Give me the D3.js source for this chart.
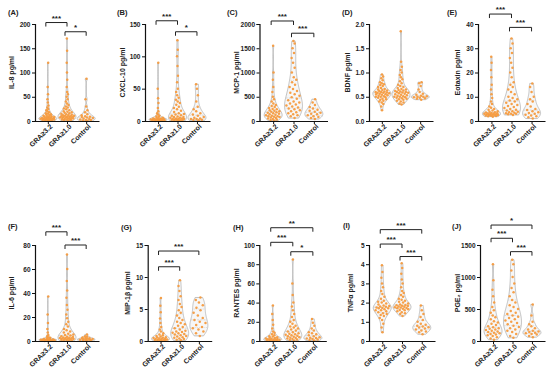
<!DOCTYPE html>
<html>
<head>
<meta charset="utf-8">
<script src="https://cdn.jsdelivr.net/npm/d3@7"></script>
<style>
  body { margin: 0; background: #fff; }
  svg { display: block; }
</style>
</head>
<body>
<div id="chart"></div>
<script>
// Groups on every x axis
const groups = ['GRA≥3.2', 'GRA≥1.0', 'Control'];

// Values, one list per group: [GRA≥3.2, GRA≥1.0, Control]
const IL8 = [
  [0.5,1,1,1.5,2,2,2.5,3,3,3.5,4,4,4.5,5,5,5.5,6,6,7,7,8,8,9,10,10,11,12,13,14,15,16,18,20,22,25,28,32,38,45,55,70,120],
  [1,2,2,3,3,4,4,5,5,6,6,7,7,8,8,9,9,10,10,11,11,12,12,13,14,15,16,17,18,19,20,22,24,26,28,30,33,36,40,45,50,55,60,70,85,100,120,145,170],
  [0.5,1,2,2,3,4,5,6,7,8,9,10,12,14,18,22,30,45,87]
];
const CXCL10 = [
  [0,0,0.5,0.5,1,1,1,1.5,1.5,2,2,2,2.5,3,3,3,3.5,4,4,5,5,6,7,8,10,12,15,20,28,35,50,90],
  [0.5,1,1,1.5,2,2,2.5,3,3,3.5,4,4,5,5,6,6,7,8,9,10,11,12,14,16,18,20,22,25,28,30,33,36,40,45,50,60,70,85,100,110,125],
  [1,1.5,2,3,3,4,5,6,8,10,12,15,18,22,30,40,50,57]
];
const MCP1 = [
  [10,20,30,40,50,60,70,80,90,100,100,110,120,130,140,150,160,170,180,190,200,210,220,240,250,270,290,310,330,360,400,450,500,600,700,850,1000,1550],
  [60,100,120,140,160,180,200,220,240,260,280,300,320,340,360,380,400,430,460,490,520,550,580,620,660,700,750,800,850,900,1000,1100,1200,1300,1400,1500,1600,1650],
  [40,60,80,100,120,140,150,170,190,210,230,260,290,330,380,450]
];
const BDNF = [
  [0.22,0.3,0.35,0.38,0.4,0.42,0.44,0.45,0.46,0.48,0.49,0.5,0.5,0.51,0.52,0.53,0.54,0.55,0.55,0.56,0.57,0.58,0.58,0.59,0.6,0.6,0.61,0.62,0.63,0.64,0.65,0.66,0.68,0.7,0.72,0.74,0.76,0.78,0.8,0.84,0.88,0.92,0.96],
  [0.34,0.36,0.38,0.4,0.42,0.44,0.45,0.46,0.47,0.48,0.49,0.5,0.5,0.51,0.52,0.53,0.54,0.55,0.56,0.57,0.58,0.59,0.6,0.6,0.61,0.62,0.63,0.64,0.65,0.66,0.68,0.7,0.72,0.75,0.78,0.82,0.86,0.9,0.95,1.0,1.05,1.12,1.22,1.85],
  [0.44,0.46,0.47,0.48,0.49,0.5,0.5,0.51,0.52,0.54,0.56,0.6,0.65,0.72,0.78,0.8]
];
const EOTAXIN = [
  [1.8,2,2.1,2.2,2.3,2.4,2.5,2.5,2.6,2.7,2.8,2.9,3,3,3.1,3.2,3.3,3.5,3.6,3.8,4,4.3,4.6,5,5.5,6,7,8,9.5,11,13,15,18,21,24,26.5],
  [2.5,2.8,3,3,3.2,3.4,3.6,3.8,4,4.3,4.6,5,5.4,5.8,6.2,6.6,7,7.5,8,8.5,9,9.5,10,11,12,13,14,15,16,18,20,22,24,26,28,30,32,34],
  [1,1.5,2,2.3,2.6,3,3.3,3.6,4,4.5,5,6,7,8,9,10,12,14,15.5]
];
const IL6 = [
  [0,0.1,0.2,0.3,0.4,0.5,0.5,0.6,0.7,0.8,0.9,1,1,1.1,1.2,1.3,1.5,1.7,2,2.3,2.7,3,4,5,7,10,15,22,37],
  [0.2,0.4,0.6,0.8,1,1.2,1.4,1.6,1.8,2,2.2,2.4,2.6,2.8,3,3.3,3.6,4,4.5,5,5.5,6,7,8,9,10,12,14,16,19,22,26,30,36,42,50,60,72],
  [0.3,0.5,0.7,0.9,1,1.2,1.4,1.6,1.8,2,2.3,2.6,3,3.5,4,5.5]
];
const MIP1B = [
  [0,0.05,0.1,0.1,0.15,0.2,0.2,0.25,0.3,0.3,0.35,0.4,0.45,0.5,0.55,0.6,0.7,0.8,0.9,1,1.2,1.5,1.8,2.2,2.8,3.5,4.5,5.5,6.7],
  [0.1,0.2,0.3,0.4,0.5,0.6,0.7,0.8,0.9,1,1.1,1.2,1.3,1.4,1.5,1.6,1.8,2,2.2,2.4,2.6,2.8,3,3.3,3.6,4,4.4,4.8,5.3,5.8,6.4,7,7.8,8.6,9.5],
  [0.8,1.2,1.5,1.8,2,2.2,2.5,2.8,3,3.3,3.6,4,4.4,4.8,5.2,5.6,6,6.4,6.8]
];
const RANTES = [
  [0,0.2,0.4,0.6,0.8,1,1.2,1.4,1.6,1.8,2,2.3,2.6,3,3.4,4,4.6,5,6,7,8.5,10,13,17,22,28,37],
  [0.5,1,1.5,2,2.5,3,3.5,4,4.5,5,5.5,6,6.5,7,7.5,8,9,10,11,12,13,14,15,16,18,20,22,25,28,32,36,40,48,60,85],
  [0.5,1,1.5,2,2.5,3,3.5,4,5,6,7,8,9,11,13,16,19,23]
];
const TNFA = [
  [0.45,0.7,0.9,1.1,1.2,1.3,1.35,1.4,1.45,1.5,1.55,1.6,1.6,1.65,1.7,1.7,1.72,1.75,1.78,1.8,1.82,1.85,1.9,1.95,2,2.05,2.1,2.2,2.3,2.45,2.6,2.8,3,3.3,3.6,3.95],
  [1.3,1.4,1.45,1.5,1.55,1.6,1.62,1.65,1.68,1.7,1.72,1.74,1.76,1.78,1.8,1.82,1.84,1.86,1.88,1.9,1.95,2,2.05,2.1,2.15,2.2,2.3,2.4,2.5,2.6,2.8,3,3.2,3.5,3.8,4.05],
  [0.35,0.45,0.5,0.55,0.6,0.65,0.7,0.72,0.75,0.8,0.85,0.9,1,1.1,1.25,1.4,1.6,1.85]
];
const PGE2 = [
  [20,40,60,80,90,100,110,120,130,140,150,160,170,180,190,200,215,230,250,270,290,310,340,370,400,440,480,530,600,700,800,950,1200],
  [50,80,110,140,160,180,200,220,240,260,280,300,320,340,360,380,400,420,440,470,500,530,560,600,640,700,760,830,900,1000,1100,1200,1270],
  [60,80,100,110,120,130,140,150,160,180,200,230,260,300,400,570]
];

// Significance brackets: [from group, to group, label, height in data units]
const panels = [
  { tag: '(A)', title: 'IL-8 pg/ml',    values: IL8,     ticks: [0, 50, 100, 150, 200],   sig: [[0, 1, '***', 203], [1, 2, '*', 184]] },
  { tag: '(B)', title: 'CXCL-10 pg/ml', values: CXCL10,  ticks: [0, 50, 100, 150],        sig: [[0, 1, '***', 155], [1, 2, '*', 138]] },
  { tag: '(C)', title: 'MCP-1 pg/ml',   values: MCP1,    ticks: [0, 500, 1000, 1500, 2000], sig: [[0, 1, '***', 2062], [1, 2, '***', 1810]] },
  { tag: '(D)', title: 'BDNF pg/ml',    values: BDNF,    ticks: [0, 0.5, 1, 1.5, 2],      sig: [], fmt: '.1f' },
  { tag: '(E)', title: 'Eotaxin pg/ml', values: EOTAXIN, ticks: [0, 10, 20, 30, 40],      sig: [[0, 1, '***', 44.1], [1, 2, '***', 38.6]] },
  { tag: '(F)', title: 'IL-6 pg/ml',    values: IL6,     ticks: [0, 20, 40, 60, 80],      sig: [[0, 1, '***', 91], [1, 2, '***', 80]] },
  { tag: '(G)', title: 'MIP-1β pg/ml',  values: MIP1B,   ticks: [0, 5, 10, 15],           sig: [[0, 2, '***', 14.06], [0, 1, '***', 11.6]] },
  { tag: '(H)', title: 'RANTES pg/ml',  values: RANTES,  ticks: [0, 20, 40, 60, 80, 100], sig: [[0, 2, '**', 118], [0, 1, '***', 102.8], [1, 2, '*', 93]] },
  { tag: '(I)', title: 'TNFα pg/ml',    values: TNFA,    ticks: [0, 1, 2, 3, 4, 5],       sig: [[0, 2, '***', 5.8], [0, 1, '***', 5.05], [1, 2, '***', 4.4]] },
  { tag: '(J)', title: 'PGE₂ pg/ml',    values: PGE2,    ticks: [0, 500, 1000, 1500],     sig: [[0, 2, '*', 1812], [0, 1, '***', 1605], [1, 2, '***', 1396]] }
];

// Where each panel sits on the page
const layout = [
  { ax: 35,    w: 64, top: 24,  h: 97, tagX: 8,   tagY: 12,  titleX: 12 },
  { ax: 145,   w: 65, top: 24,  h: 97, tagX: 117, tagY: 12,  titleX: 123 },
  { ax: 259.5, w: 68, top: 24,  h: 97, tagX: 227, tagY: 12,  titleX: 237 },
  { ax: 369,   w: 64, top: 24,  h: 97, tagX: 342, tagY: 12,  titleX: 348 },
  { ax: 478,   w: 67, top: 24,  h: 97, tagX: 447, tagY: 12,  titleX: 458 },
  { ax: 35,    w: 64, top: 245, h: 96, tagX: 8,   tagY: 226, titleX: 12 },
  { ax: 147.7, w: 64, top: 245, h: 96, tagX: 121, tagY: 227, titleX: 128 },
  { ax: 259.3, w: 67, top: 245, h: 96, tagX: 233, tagY: 227, titleX: 237 },
  { ax: 369,   w: 66, top: 245, h: 96, tagX: 343, tagY: 225, titleX: 351 },
  { ax: 480,   w: 65, top: 245, h: 96, tagX: 452, tagY: 226, titleX: 458 }
];

const FONT = 'Liberation Sans, Arial, sans-serif';
const ORANGE = '#f59b3f';
const VIOLIN = '#a9a9a9';
const HALF_MAX = 9; // widest half-width of a violin, px

const svg = d3.select('#chart').append('svg')
  .attr('width', 550).attr('height', 375)
  .attr('viewBox', '0 0 550 375');

// Gaussian kernel density at t
function density(vals, bw, t) {
  return d3.mean(vals, v => Math.exp(-0.5 * ((t - v) / bw) ** 2));
}

panels.forEach((p, k) => {
  const L = layout[k];
  const y = d3.scaleLinear().domain([0, p.ticks[p.ticks.length - 1]]).range([L.top + L.h, L.top]);
  const x = d3.scalePoint().domain(groups).range([L.ax, L.ax + L.w]).padding(0.67);
  const g = svg.append('g');

  // Violins + points
  p.values.forEach((raw, i) => {
    const vals = raw.slice().sort(d3.ascending);
    const n = vals.length;
    const sd = d3.deviation(vals);
    const iqr = d3.quantile(vals, 0.75) - d3.quantile(vals, 0.25);
    const bw = 0.8 * Math.min(sd, (iqr || sd) / 1.34) * Math.pow(n, -0.2);
    const lo = vals[0], hi = vals[n - 1];
    const samples = d3.range(0, 81).map(j => lo + (hi - lo) * j / 80);
    const dens = samples.map(t => [t, density(vals, bw, t)]);
    const dMax = d3.max(dens, d => d[1]);
    const wScale = d3.scaleLinear().domain([0, dMax]).range([0, HALF_MAX]);
    const cx = x(groups[i]);

    const area = d3.area()
      .x0(d => cx - wScale(d[1]))
      .x1(d => cx + wScale(d[1]))
      .y(d => y(d[0]))
      .curve(d3.curveCatmullRom);

    g.append('path')
      .attr('d', area(dens))
      .attr('fill', '#f7f7f7')
      .attr('stroke', VIOLIN)
      .attr('stroke-width', 0.7);

    // median (dashed) and quartiles (dotted)
    [[0.5, '2,1.2'], [0.25, '0.8,1'], [0.75, '0.8,1']].forEach(([q, dash]) => {
      const v = d3.quantile(vals, q);
      const hw = wScale(density(vals, bw, v));
      g.append('line')
        .attr('x1', cx - hw).attr('x2', cx + hw)
        .attr('y1', y(v)).attr('y2', y(v))
        .attr('stroke', '#c9c9c9')
        .attr('stroke-width', 0.7)
        .attr('stroke-dasharray', dash);
    });

    g.selectAll(null)
      .data(vals)
      .enter()
      .append('circle')
      .attr('cx', (v, j) => {
        const u = (((j + 1) * 0.618034) % 1) * 2 - 1;
        return cx + u * 0.85 * wScale(density(vals, bw, v));
      })
      .attr('cy', v => y(v))
      .attr('r', 1.25)
      .attr('fill', ORANGE)
      .attr('opacity', 0.95);
  });

  // Y axis
  const yAxis = d3.axisLeft(y)
    .tickValues(p.ticks)
    .tickSize(3)
    .tickPadding(1.5)
    .tickFormat(d3.format(p.fmt || 'd'));
  const ya = g.append('g')
    .attr('transform', `translate(${L.ax},0)`)
    .call(yAxis);

  // X axis
  const xAxis = d3.axisBottom(x).tickSize(3).tickSizeOuter(0);
  const xa = g.append('g')
    .attr('transform', `translate(0,${L.top + L.h})`)
    .call(xAxis);

  [ya, xa].forEach(a => {
    a.select('.domain').attr('stroke', '#111').attr('stroke-width', 1.2);
    a.selectAll('.tick line').attr('stroke', '#111').attr('stroke-width', 1);
    a.selectAll('text')
      .style('font-family', FONT)
      .style('font-weight', 'bold')
      .style('font-size', '6.5px')
      .style('fill', '#222');
  });
  xa.selectAll('text')
    .attr('x', -1).attr('y', 5)
    .attr('dy', '0.35em')
    .attr('transform', 'rotate(-45)')
    .style('text-anchor', 'end')
    .style('font-size', '7px');

  // Y title
  g.append('text')
    .attr('transform', `translate(${L.titleX},${L.top + L.h / 2}) rotate(-90)`)
    .attr('dy', '0.35em')
    .attr('text-anchor', 'middle')
    .style('font-family', FONT)
    .style('font-weight', 'bold')
    .style('font-size', '7px')
    .style('fill', '#222')
    .text(p.title);

  // Panel tag
  g.append('text')
    .attr('x', L.tagX).attr('y', L.tagY)
    .attr('dy', '0.35em')
    .style('font-family', FONT)
    .style('font-weight', 'bold')
    .style('font-size', '7.5px')
    .style('fill', '#222')
    .text(p.tag);

  // Significance brackets
  p.sig.forEach(([a, b, label, v]) => {
    const x1 = x(groups[a]) - 2, x2 = x(groups[b]);
    const yb = y(v);
    g.append('path')
      .attr('d', `M${x1},${yb + 4}V${yb}H${x2}V${yb + 4}`)
      .attr('fill', 'none')
      .attr('stroke', '#222')
      .attr('stroke-width', 1);
    g.append('text')
      .attr('x', (x1 + x2) / 2).attr('y', yb - 2)
      .attr('text-anchor', 'middle')
      .style('font-family', FONT)
      .style('font-weight', 'bold')
      .style('font-size', '8px')
      .style('fill', '#222')
      .text(label);
  });
});
</script>
</body>
</html>
